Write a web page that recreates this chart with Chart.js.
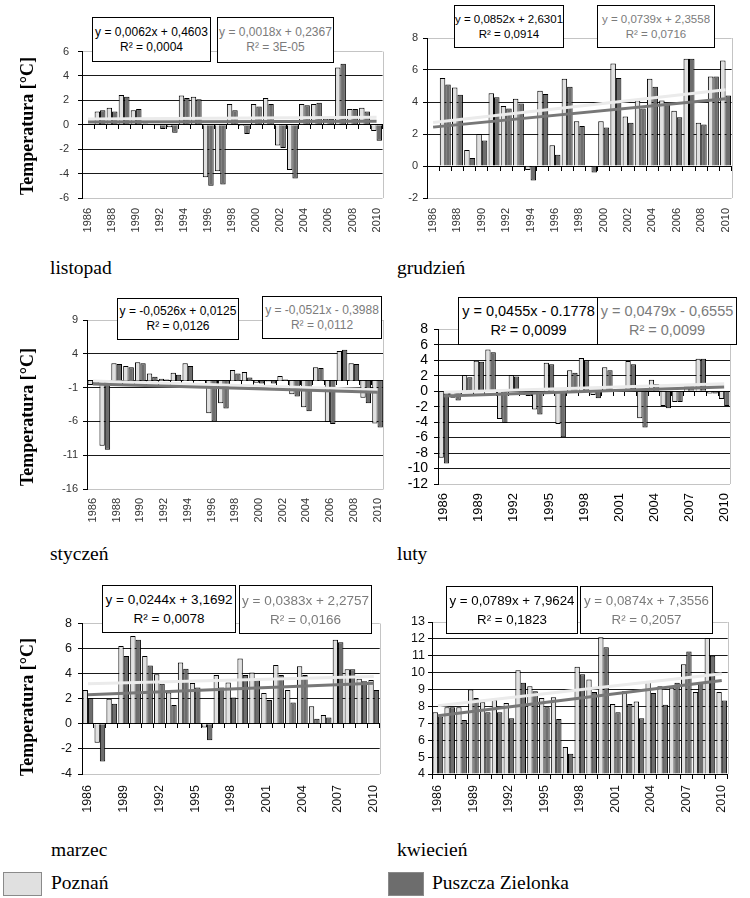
<!DOCTYPE html>
<html lang="pl">
<head>
<meta charset="utf-8">
<title>Temperatura – Poznań i Puszcza Zielonka</title>
<script src="https://cdn.jsdelivr.net/npm/chart.js@4.4.1/dist/chart.umd.min.js"></script>
<style>
  body { margin: 0; background: #fff; }
  #page { position: relative; width: 750px; height: 898px; overflow: hidden; background: #fff; }
  #page canvas { position: absolute; }
  .eq {
    position: absolute; box-sizing: border-box; border: 1px solid #000; background: #fff;
    font-family: "Liberation Sans", Arial, sans-serif; color: #000;
    display: flex; flex-direction: column; justify-content: center; align-items: center;
    white-space: nowrap; z-index: 2;
  }
  .eq.gray { color: #7b7b7b; }
  .ytitle {
    position: absolute; font: bold 18px "Liberation Serif", serif; white-space: nowrap;
    transform: translate(-50%, -50%) rotate(-90deg);
  }
  .month, .leg { position: absolute; font: 19.5px "Liberation Serif", serif; line-height: 20px; white-space: nowrap; }
  .swatch { position: absolute; box-sizing: border-box; border: 1px solid #8a8a8a; }
</style>
</head>
<body>
<div id="page"></div>
<script>
// years on the category axis
const years = ["1986", "1987", "1988", "1989", "1990", "1991", "1992", "1993", "1994", "1995",
  "1996", "1997", "1998", "1999", "2000", "2001", "2002", "2003", "2004", "2005",
  "2006", "2007", "2008", "2009", "2010"];

// listopad
const listopadPoznan = [null, 1.1, 1.4, 2.45, 1.2, 0.1, -0.05, -0.2, 2.4, 2.3, -4.3, -3.8, 1.7,
  -0.1, 1.7, 2.2, -1.7, -3.7, 1.7, 1.7, 0.5, 4.7, 1.3, 1.4, -0.5];
const listopadZielonka = [null, 1.2, 1.1, 2.3, 1.3, 0.05, -0.35, -0.65, 2.2, 2.1, -5.0, -4.9, 1.2,
  -0.75, 1.5, 1.7, -1.9, -4.4, 1.6, 1.8, 0.5, 5.0, 1.3, 1.1, -1.3];
const listopadTrendPoznan = [0.466, 0.615];
const listopadTrendZielonka = [0.239, 0.282];
const listopadEq = ["y = 0,0062x + 0,4603", "R² = 0,0004", "y = 0,0018x + 0,2367", "R² = 3E-05"];

// grudzień
const grudzienPoznan = [null, 5.5, 4.9, 1.0, 2.0, 4.55, 3.75, 4.2, -0.25, 4.7, 1.3, 5.45, 2.8,
  -0.05, 2.8, 6.4, 3.1, 4.1, 5.45, 4.1, 3.45, 6.7, 2.7, 5.6, 6.6];
const grudzienZielonka = [null, 5.1, 4.45, 0.5, 1.6, 4.3, 3.6, 3.9, -0.9, 4.5, 0.7, 4.95, 2.5,
  -0.4, 2.4, 5.5, 2.7, 3.6, 4.95, 3.9, 3.05, 6.7, 2.6, 5.6, 4.4];
const grudzienTrendPoznan = [2.715, 4.760];
const grudzienTrendZielonka = [2.430, 4.203];
const grudzienEq = ["y = 0,0852x + 2,6301", "R² = 0,0914", "y = 0,0739x + 2,3558", "R² = 0,0716"];

// styczeń
const styczenPoznan = [-0.6, -9.6, 2.6, 2.2, 2.75, 1.1, 0.3, 1.2, 2.6, 0.1, -4.8, -3.3, 1.6,
  1.3, -0.3, -0.1, 0.7, -2.0, -3.9, 2.0, -6.1, 4.4, 2.6, -2.5, -6.3];
const styczenZielonka = [-0.6, -10.2, 2.5, 2.0, 2.6, 0.6, 0.2, 0.9, 2.2, 0.1, -6.0, -4.1, 1.1,
  0.5, -0.4, -0.4, 0.2, -2.3, -4.5, 1.9, -6.4, 4.6, 2.5, -3.3, -6.9];
const styczenTrendPoznan = [-0.040, -1.303];
const styczenTrendZielonka = [-0.451, -1.701];
const styczenEq = ["y = -0,0526x + 0,0125", "R² = 0,0126", "y = -0,0521x - 0,3988", "R² = 0,0112"];

// luty
const lutyPoznan = [-8.6, -0.85, 2.1, 3.95, 5.4, -3.6, 2.1, -0.5, -2.35, 3.7, -4.25, 2.7, 4.3,
  -0.5, 3.1, 0.3, 3.9, -3.5, 1.5, -1.9, -1.4, 0.6, 4.2, -0.3, -1.0];
const lutyZielonka = [-9.35, -1.2, 1.8, 3.8, 5.05, -4.1, 1.9, -0.6, -3.0, 3.5, -5.95, 2.4, 4.0,
  -0.9, 2.7, 0.2, 3.5, -4.7, 0.95, -2.2, -1.4, 0.6, 4.2, -0.3, -1.9];
const lutyTrendPoznan = [-0.132, 0.960];
const lutyTrendZielonka = [-0.608, 0.542];
const lutyEq = ["y = 0,0455x - 0.1778", "R² = 0,0099", "y = 0,0479x - 0,6555", "R² = 0,0099"];

// marzec
const marzecPoznan = [2.7, -1.5, 2.0, 6.2, 7.0, 5.4, 3.95, 2.5, 4.9, 3.25, -0.3, 3.9, 3.3,
  5.2, 4.1, 2.45, 4.7, 2.7, 4.6, 1.4, 0.7, 6.7, 4.35, 3.6, 3.5];
const marzecZielonka = [2.05, -3.0, 1.6, 5.4, 6.7, 4.65, 3.2, 1.5, 4.4, 2.9, -1.3, 2.9, 2.1,
  3.9, 3.5, 1.9, 3.9, 1.7, 3.9, 0.4, 0.5, 6.5, 4.35, 3.4, 2.7];
const marzecTrendPoznan = [3.194, 3.779];
const marzecTrendZielonka = [2.314, 3.233];
const marzecEq = ["y = 0,0244x + 3,1692", "R² = 0,0078", "y = 0,0383x + 2,2757", "R² = 0,0166"];

// kwiecień
const kwiecienPoznan = [7.65, 7.95, 7.95, 9.0, 8.25, 8.4, 8.2, 10.15, 9.2, 8.5, 8.55, 5.6, 10.35,
  9.6, 12.1, 8.15, 8.9, 8.3, 9.5, 9.2, 9.1, 10.5, 8.85, 12.05, 8.85];
const kwiecienZielonka = [7.4, 7.95, 7.2, 8.5, 7.65, 7.65, 7.3, 9.4, 8.9, 7.95, 7.25, 5.2, 9.9,
  8.85, 11.5, 7.65, 8.15, 7.3, 8.8, 8.1, 9.4, 11.25, 9.4, 11.0, 8.35];
const kwiecienTrendPoznan = [8.041, 9.935];
const kwiecienTrendZielonka = [7.443, 9.541];
const kwiecienEq = ["y = 0,0789x + 7,9624", "R² = 0,1823", "y = 0,0874x + 7,3556", "R² = 0,2057"];

const LIGHT = "#e0e0e0";
const DARK = "#6d6d6d";
const FRAME = "#c4c4c4";

// plot = [left, top, right, bottom] of the plotting area on the page
const panels = [
  { name: "listopad", p: listopadPoznan, z: listopadZielonka, tp: listopadTrendPoznan, tz: listopadTrendZielonka, eq: listopadEq,
    plot: [82, 48, 388, 198], min: -6, max: 6, step: 2, cross: 0, every: 2, yFont: 11, xFont: 11, color: "#333", yPad: 9, xPad: 10,
    boxes: [[92, 17, 119, 45], [217, 17, 117, 46]], eqFont: 12, eqLine: 15, month: [50, 258] },
  { name: "grudzień", p: grudzienPoznan, z: grudzienZielonka, tp: grudzienTrendPoznan, tz: grudzienTrendZielonka, eq: grudzienEq,
    plot: [427, 38, 737, 198], min: -2, max: 8, step: 2, cross: 0, every: 2, yFont: 11, xFont: 11, color: "#333", yPad: 5, xPad: 10,
    boxes: [[454, 5, 110, 43], [597, 5, 118, 43]], eqFont: 11.5, eqLine: 15, month: [397, 258] },
  { name: "styczeń", p: styczenPoznan, z: styczenZielonka, tp: styczenTrendPoznan, tz: styczenTrendZielonka, eq: styczenEq,
    plot: [87, 320, 388, 489], min: -16, max: 9, step: 5, cross: 0, every: 2, yFont: 11, xFont: 11, color: "#333", yPad: 5, xPad: 9,
    boxes: [[117, 298, 122, 42], [262, 296, 120, 43]], eqFont: 12, eqLine: 15, month: [50, 544] },
  { name: "luty", p: lutyPoznan, z: lutyZielonka, tp: lutyTrendPoznan, tz: lutyTrendZielonka, eq: lutyEq,
    plot: [438, 327, 737, 484], min: -12, max: 8, step: 2, cross: 0, every: 3, yFont: 14, xFont: 13, color: "#000", yPad: 6, xPad: 9,
    boxes: [[458, 297, 141, 48], [597, 297, 140, 48]], eqFont: 14.5, eqLine: 19, month: [397, 544] },
  { name: "marzec", p: marzecPoznan, z: marzecZielonka, tp: marzecTrendPoznan, tz: marzecTrendZielonka, eq: marzecEq,
    plot: [82, 622, 388, 774], min: -4, max: 8, step: 2, cross: 0, every: 3, yFont: 12.5, xFont: 12.5, color: "#111", yPad: 6, xPad: 11,
    boxes: [[102, 585, 134, 48], [239, 585, 133, 49]], eqFont: 13.5, eqLine: 19, month: [51, 840] },
  { name: "kwiecień", p: kwiecienPoznan, z: kwiecienZielonka, tp: kwiecienTrendPoznan, tz: kwiecienTrendZielonka, eq: kwiecienEq,
    plot: [432, 622, 736, 774], min: 4, max: 13, step: 1, cross: 4, every: 3, yFont: 12.5, xFont: 12.5, color: "#111", yPad: 3, xPad: 11,
    boxes: [[446, 586, 132, 48], [580, 586, 133, 48]], eqFont: 13.3, eqLine: 19, month: [397, 840] }
];

const page = document.getElementById("page");

function addDiv(cls, text, css) {
  const d = document.createElement("div");
  d.className = cls;
  if (text !== null) d.textContent = text;
  Object.assign(d.style, css);
  page.appendChild(d);
  return d;
}

// light grey right edge of the plot area, like the Excel frame
const plotFrame = {
  id: "plotFrame",
  beforeDatasetsDraw(chart) {
    const a = chart.chartArea;
    const ctx = chart.ctx;
    ctx.save();
    ctx.strokeStyle = FRAME;
    ctx.lineWidth = 1;
    ctx.beginPath();
    ctx.moveTo(Math.round(a.right) + 0.5, a.top);
    ctx.lineTo(Math.round(a.right) + 0.5, a.bottom);
    ctx.stroke();
    ctx.restore();
  }
};

const AXW = 46, PAD = 12, XH = 46;

panels.forEach((pn) => {
  const [L, T, R, B] = pn.plot;
  const cv = document.createElement("canvas");
  cv.width = R - L + AXW + PAD;
  cv.height = B - T + PAD + XH;
  cv.style.left = (L - AXW) + "px";
  cv.style.top = (T - PAD) + "px";
  page.appendChild(cv);

  const first = years[0], last = years[years.length - 1];

  new Chart(cv, {
    type: "bar",
    data: {
      labels: years,
      datasets: [
        { type: "line", data: [{ x: first, y: pn.tz[0] }, { x: last, y: pn.tz[1] }],
          borderColor: "#777", borderWidth: 3, pointRadius: 0, order: 0 },
        { type: "line", data: [{ x: first, y: pn.tp[0] }, { x: last, y: pn.tp[1] }],
          borderColor: "#ebebeb", borderWidth: 3, pointRadius: 0, order: 0 },
        { label: "Poznań", data: pn.p, backgroundColor: LIGHT, borderColor: "#000", borderWidth: 1,
          base: pn.cross, categoryPercentage: 0.9, barPercentage: 1, order: 1 },
        { label: "Puszcza Zielonka", data: pn.z, backgroundColor: DARK, borderColor: "#000", borderWidth: 1,
          base: pn.cross, categoryPercentage: 0.9, barPercentage: 1, order: 1 }
      ]
    },
    options: {
      responsive: false,
      animation: false,
      layout: { padding: { left: 0, top: PAD, right: PAD, bottom: 0 } },
      plugins: { legend: { display: false }, tooltip: { enabled: false } },
      scales: {
        x: {
          offset: true,
          grid: { display: false, drawTicks: false },
          border: { display: false },
          ticks: {
            autoSkip: false, minRotation: 90, maxRotation: 90, padding: pn.xPad, color: pn.color,
            font: { family: "Liberation Sans", size: pn.xFont },
            callback: function (v, i) { return i % pn.every === 0 ? this.getLabelForValue(v) : ""; }
          },
          afterFit: (s) => { s.height = XH; }
        },
        x2: {
          type: "category",
          position: { y: pn.cross },
          offset: true,
          grid: { offset: true, drawOnChartArea: false, drawTicks: true, tickLength: 4, color: "#000" },
          border: { display: true, color: "#000", width: 1 },
          ticks: { display: false }
        },
        y: {
          min: pn.min, max: pn.max,
          ticks: {
            stepSize: pn.step, autoSkip: false, padding: pn.yPad, color: pn.color,
            font: { family: "Liberation Sans", size: pn.yFont }
          },
          grid: {
            color: (c) => (c.index === 0 || c.index === c.scale.ticks.length - 1) ? FRAME : "#1a1a1a",
            tickColor: "#000", tickLength: 4
          },
          border: { display: true, color: "#000" },
          afterFit: (s) => { s.width = AXW; }
        }
      }
    },
    plugins: [plotFrame]
  });

  // trendline equation boxes
  pn.boxes.forEach((b, k) => {
    const box = addDiv(k === 0 ? "eq" : "eq gray", null, {
      left: b[0] + "px", top: b[1] + "px", width: b[2] + "px", height: b[3] + "px",
      fontSize: pn.eqFont + "px", lineHeight: pn.eqLine + "px"
    });
    [pn.eq[k * 2], pn.eq[k * 2 + 1]].forEach((t) => {
      const line = document.createElement("div");
      line.textContent = t;
      box.appendChild(line);
    });
  });

  addDiv("month", pn.name, { left: pn.month[0] + "px", top: pn.month[1] + "px" });
});

// y axis titles for the three rows
[126, 417, 707].forEach((cy) => {
  addDiv("ytitle", "Temperatura [°C]", { left: "27px", top: cy + "px" });
});

// legend
addDiv("swatch", null, { left: "3px", top: "872px", width: "39px", height: "24px", background: LIGHT });
addDiv("leg", "Poznań", { left: "51px", top: "873px" });
addDiv("swatch", null, { left: "388px", top: "872px", width: "36px", height: "24px", background: DARK });
addDiv("leg", "Puszcza Zielonka", { left: "432px", top: "873px" });
</script>
</body>
</html>
